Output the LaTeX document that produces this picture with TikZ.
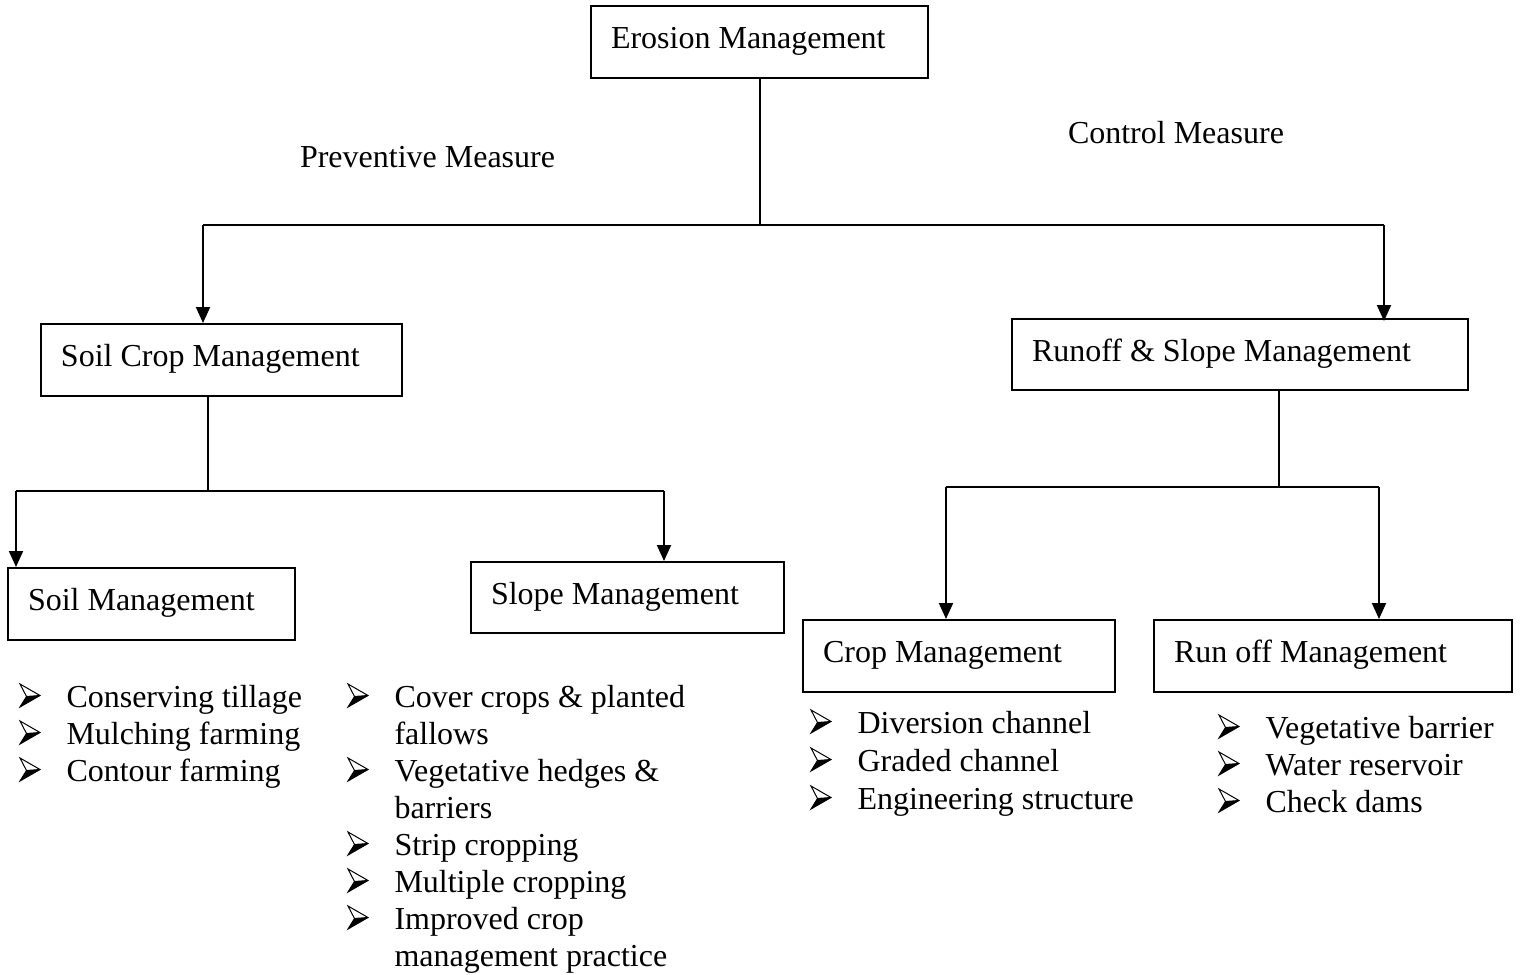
\documentclass[tikz,border=0pt]{standalone}
\usepackage{fontspec}
\setmainfont{Liberation Serif}
\usetikzlibrary{arrows.meta}
\newcommand{\cont}{\hspace*{22.75pt}}
\begin{document}
\begin{tikzpicture}[x=0.5pt,y=-0.5pt,
  font=\fontsize{16}{18.5}\selectfont, line width=1pt,
  box/.style={draw, rectangle, line width=1pt, inner xsep=10pt, inner ysep=0pt,
    align=flush left, text height=11.5pt, text depth=5pt, minimum height=36pt},
  arr/.style={-{Triangle[width=7pt,length=8pt]}},
  item/.style={anchor=base west, inner sep=0pt},
  bul/.pic={
    \fill (6.5,-10.5) -- (20,-11.5) -- (0,0) -- cycle;
    \draw[line width=0.5pt, line join=miter] (0,-23) -- (20,-11.5) -- (0,0) -- (6.5,-10.5) -- cycle;
    \draw[line width=0.5pt] (6.5,-10.5) -- (20,-11.5);
  }]
\useasboundingbox (0,0) rectangle (1523,975);
% boxes
\node[box, text width=148.5pt] (ero) at (759.5,42) {Erosion Management};
\node[box, text width=160.5pt] (scm) at (221.5,360) {Soil Crop Management};
\node[box, text width=208pt, minimum height=35.5pt] (rsm) at (1240,354.5) {Runoff \& Slope Management};
\node[box, text width=123.5pt] (sm) at (151.5,604) {Soil Management};
\node[box, text width=136.5pt, minimum height=35.5pt] (slm) at (627.5,597.5) {Slope Management};
\node[box, text width=136pt] (cm) at (959,656) {Crop Management};
\node[box, text width=159pt] (rom) at (1333,656) {Run off Management};
% labels
\node[item] (pm) at (299,167) {Preventive Measure};
\node[item] (ctm) at (1067,143) {Control Measure};
% top connectors
\coordinate (j) at (760,225);
\coordinate (jl) at (203,225);
\coordinate (jr) at (1384,225);
\draw (ero.south) -- (ero.south |- j);
\draw (jl) -- (jr);
\draw[arr] (jl) -- (jl |- scm.north);
\draw[arr] (jr) -- ([yshift=-1.5pt]jr |- rsm.north);
% left group
\coordinate (k) at (208,491);
\coordinate (kl) at (16,491);
\coordinate (kr) at (664,491);
\draw (k |- scm.south) -- (k);
\draw (kl) -- (kr);
\draw[arr] (kl) -- (kl |- sm.north);
\draw[arr] (kr) -- (kr |- slm.north);
% right group
\coordinate (m) at (1279,487);
\coordinate (ml) at (946,487);
\coordinate (mr) at (1379,487);
\draw (m |- rsm.south) -- (m);
\draw (ml) -- (mr);
\draw[arr] (ml) -- (ml |- cm.north);
\draw[arr] (mr) -- (mr |- rom.north);
% soil list
\node[item] (s1) at (20,707) {\cont Conserving tillage};
\node[item] (s2) at (20,744) {\cont Mulching farming};
\node[item] (s3) at (20,781) {\cont Contour farming};
% slope list
\node[item] (p1) at (348,707) {\cont Cover crops \& planted};
\node[item] (p1b) at (348,744) {\cont fallows};
\node[item] (p2) at (348,781) {\cont Vegetative hedges \&};
\node[item] (p2b) at (348,818) {\cont barriers};
\node[item] (p3) at (348,855) {\cont Strip cropping};
\node[item] (p4) at (348,892) {\cont Multiple cropping};
\node[item] (p5) at (348,929) {\cont Improved crop};
\node[item] (p5b) at (348,966) {\cont management practice};
% crop list
\node[item] (c1) at (811,733) {\cont Diversion channel};
\node[item] (c2) at (811,771) {\cont Graded channel};
\node[item] (c3) at (811,809) {\cont Engineering structure};
% runoff list
\node[item] (r1) at (1219,738) {\cont Vegetative barrier};
\node[item] (r2) at (1219,775) {\cont Water reservoir};
\node[item] (r3) at (1219,812) {\cont Check dams};
% bullets
\foreach \n in {s1,s2,s3,p1,p2,p3,p4,p5,c1,c2,c3,r1,r2,r3}
  \pic at (\n.base west) {bul};
\end{tikzpicture}
\end{document}
